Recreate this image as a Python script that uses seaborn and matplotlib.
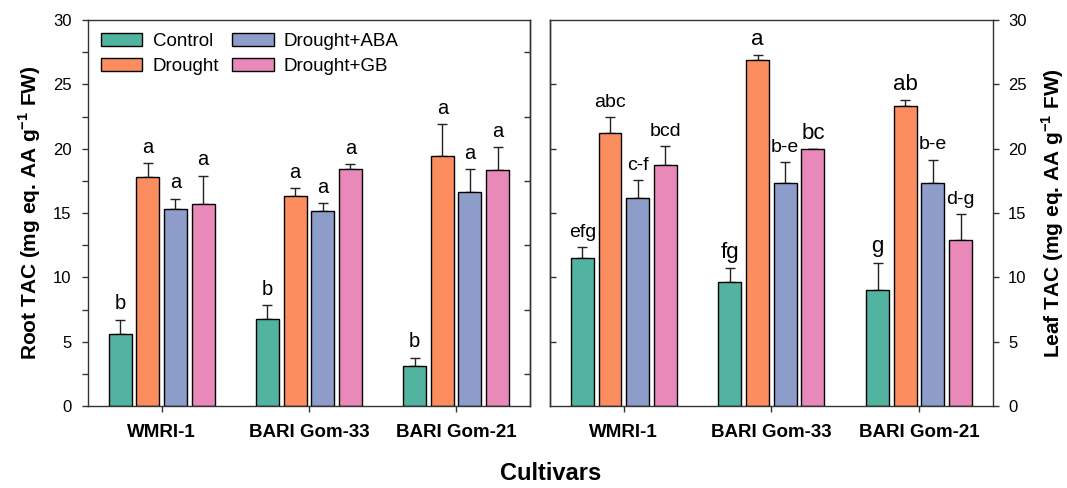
import numpy as np
import pandas as pd
import matplotlib
matplotlib.use("Agg")
import matplotlib.pyplot as plt
from matplotlib.ticker import MultipleLocator
from matplotlib.patches import Patch
import seaborn as sns

# --- data ---
cultivars = ["WMRI-1", "BARI Gom-33", "BARI Gom-21"]
treatments = ["Control", "Drought", "Drought+ABA", "Drought+GB"]

# rows = treatment, cols = cultivar
root_mean = [[5.6, 6.8, 3.1],
             [17.8, 16.3, 19.4],
             [15.3, 15.15, 16.6],
             [15.7, 18.4, 18.35]]
root_err = [[1.1, 1.05, 0.67],
            [1.05, 0.63, 2.5],
            [0.8, 0.6, 1.8],
            [2.2, 0.4, 1.75]]
root_letters = [["b", "b", "b"],
                ["a", "a", "a"],
                ["a", "a", "a"],
                ["a", "a", "a"]]

leaf_mean = [[11.5, 9.65, 9.0],
             [21.25, 26.9, 23.3],
             [16.2, 17.3, 17.35],
             [18.75, 19.95, 12.9]]
leaf_err = [[0.85, 1.05, 2.15],
            [1.2, 0.35, 0.47],
            [1.35, 1.65, 1.8],
            [1.45, 0.0, 2.0]]
leaf_letters = [["efg", "fg", "g"],
                ["abc", "a", "ab"],
                ["c-f", "b-e", "b-e"],
                ["bcd", "bc", "d-g"]]

colors = ["#52b3a1", "#fc8d5e", "#8d9cc8", "#e889ba"]


def to_frame(means, errs, letters):
    rows = []
    for i, t in enumerate(treatments):
        for j, c in enumerate(cultivars):
            rows.append({"Cultivar": c, "Treatment": t, "TAC": means[i][j],
                         "SE": errs[i][j], "Letter": letters[i][j]})
    return pd.DataFrame(rows)


root_df = to_frame(root_mean, root_err, root_letters)
leaf_df = to_frame(leaf_mean, leaf_err, leaf_letters)

sns.set_style("ticks")
plt.rcParams["font.family"] = ["Liberation Sans", "DejaVu Sans"]
plt.rcParams["mathtext.fontset"] = "custom"
plt.rcParams["mathtext.rm"] = "Liberation Sans"
plt.rcParams["mathtext.bf"] = "Liberation Sans:bold"
plt.rcParams["text.color"] = "black"
plt.rcParams["axes.labelcolor"] = "black"
plt.rcParams["axes.edgecolor"] = "#333333"
plt.rcParams["axes.linewidth"] = 1.0
plt.rcParams["xtick.color"] = "#333333"
plt.rcParams["ytick.color"] = "#333333"
plt.rcParams["xtick.labelcolor"] = "black"
plt.rcParams["ytick.labelcolor"] = "black"

fig = plt.figure(figsize=(10.67, 4.88), dpi=100)
ax1 = fig.add_axes([0.0825, 0.168, 0.414, 0.791])
ax2 = fig.add_axes([0.5155, 0.168, 0.415, 0.791])


def draw_panel(ax, df, small_fs, big_fs):
    sns.barplot(data=df, x="Cultivar", y="TAC", hue="Treatment",
                order=cultivars, hue_order=treatments, palette=colors,
                width=0.75, gap=0.17, edgecolor="black", linewidth=1,
                errorbar=None, saturation=1, legend=False, ax=ax, zorder=2)
    bar_conts = list(ax.containers)[:len(treatments)]
    for i, cont in enumerate(bar_conts):
        sub = df[df["Treatment"] == treatments[i]].set_index("Cultivar").loc[cultivars]
        xs = [b.get_x() + b.get_width() / 2 for b in cont]
        top = sub["TAC"].values + sub["SE"].values
        ax.errorbar(xs, sub["TAC"].values,
                    yerr=[np.zeros(len(xs)), sub["SE"].values],
                    fmt="none", ecolor="#222222", elinewidth=1,
                    capsize=3.6, capthick=1, zorder=1)
        for x, y, lab in zip(xs, top, sub["Letter"].values):
            fs = big_fs if len(lab) <= 2 else small_fs
            ax.annotate(lab, (x, y), xytext=(0, 7.5), textcoords="offset points",
                        ha="center", va="baseline", fontsize=fs, color="black")
    ax.set_ylim(0, 30)
    ax.set_xlim(-0.5, 2.5)
    ax.set_xlabel("")
    ax.tick_params(axis="x", direction="out", length=4, width=1, pad=9,
                   top=False)
    for lab in ax.get_xticklabels():
        lab.set_fontweight("bold")
        lab.set_fontsize(13.5)
    for s in ax.spines.values():
        s.set_visible(True)


draw_panel(ax1, root_df, 14.5, 14.5)
draw_panel(ax2, leaf_df, 14, 16)

# left panel: labelled axis on the left, inward minor ticks on the right
ax1.yaxis.set_major_locator(MultipleLocator(5))
ax1.yaxis.set_minor_locator(MultipleLocator(2.5))
ax1.tick_params(axis="y", which="major", direction="out", length=4, width=1,
                pad=8, labelsize=12, right=False)
ax1.tick_params(axis="y", which="minor", direction="out", length=4, width=1,
                right=False)
ax1.set_ylabel(r"Root TAC (mg eq. AA g$^{\mathbf{-1}}$ FW)", fontsize=15,
               fontweight="bold", labelpad=7)
sec1 = ax1.secondary_yaxis("right")
sec1.set_yticks(np.arange(2.5, 30, 5))
sec1.tick_params(direction="in", length=4, width=1, labelright=False)

# right panel: labelled axis on the right, inward ticks on the left
ax2.yaxis.tick_right()
ax2.yaxis.set_label_position("right")
ax2.yaxis.set_major_locator(MultipleLocator(5))
ax2.tick_params(axis="y", which="major", direction="out", length=4, width=1,
                pad=7, labelsize=12, left=False)
ax2.set_ylabel(r"Leaf TAC (mg eq. AA g$^{\mathbf{-1}}$ FW)", fontsize=15,
               fontweight="bold", labelpad=9, rotation=90)
sec2 = ax2.secondary_yaxis("left")
sec2.set_yticks(np.arange(5, 30, 5))
sec2.tick_params(direction="in", length=4, width=1, labelleft=False)

# legend
handles = [Patch(facecolor=c, edgecolor="black", linewidth=1) for c in colors]
ax1.legend(handles, treatments, loc="upper left", ncol=2, frameon=False,
           fontsize=13.5, handlelength=2.2, handleheight=0.65,
           handletextpad=0.55, columnspacing=0.7, labelspacing=0.42,
           borderaxespad=0.3, bbox_to_anchor=(0.0, 1.0))

fig.text(0.516, 0.03, "Cultivars", ha="center", va="center", fontsize=17,
         fontweight="bold")

plt.savefig("out.png", dpi=100)
